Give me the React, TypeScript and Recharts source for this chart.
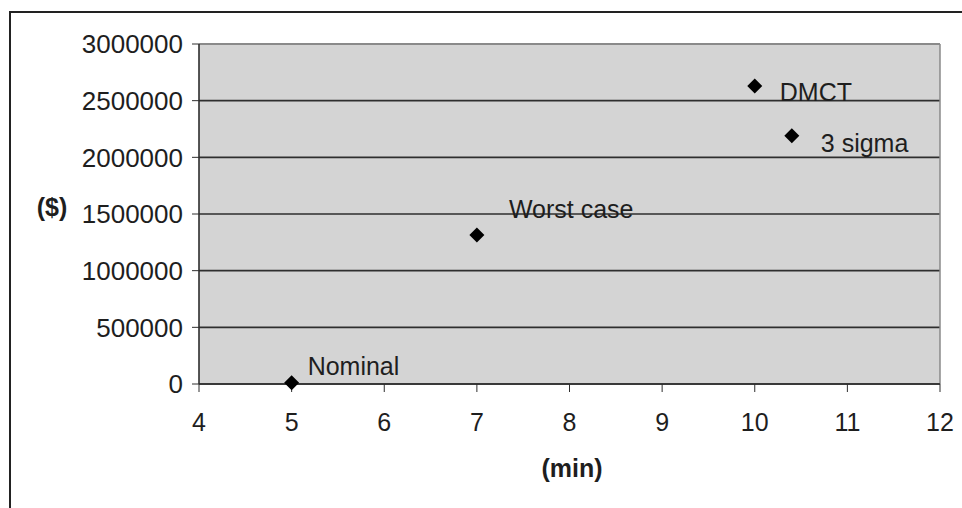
import React from 'react';
import {
  ScatterChart,
  Scatter,
  XAxis,
  YAxis,
  CartesianGrid,
  ReferenceLine,
} from 'recharts';

const caseNames = ['Nominal', 'Worst case', 'DMCT', '3 sigma'];
const minutes = [5, 7, 10, 10.4];
const costs = [10000, 1315000, 2630000, 2190000];
const xTicks = [4, 5, 6, 7, 8, 9, 10, 11, 12];
const yTicks = [0, 500000, 1000000, 1500000, 2000000, 2500000, 3000000];

const data = caseNames.map((name, i) => ({ name, x: minutes[i], y: costs[i] }));

// where each label sits relative to its marker (dx to text start, dy to text middle)
const labelOffset: Record<string, [number, number]> = {
  Nominal: [16, -17],
  'Worst case': [32, -26],
  DMCT: [25, 6],
  '3 sigma': [29, 7],
};

const FONT = '"Liberation Sans", Arial, sans-serif';
const INK = '#1e1e1e';

function Marker(props: any) {
  const { cx, cy, payload } = props;
  const r = 7.5;
  const [dx, dy] = labelOffset[payload.name] || [20, 0];
  return (
    <g>
      <polygon
        points={`${cx},${cy - r} ${cx + r},${cy} ${cx},${cy + r} ${cx - r},${cy}`}
        fill="#000"
      />
      <text
        x={cx + dx}
        y={cy + dy}
        dy="0.36em"
        fontSize={25}
        fontFamily={FONT}
        fill={INK}
      >
        {payload.name}
      </text>
    </g>
  );
}

export default function App() {
  const xTick = { fontSize: 25, fontFamily: FONT, fill: INK };
  const yTick = { fontSize: 26, fontFamily: FONT, fill: INK };
  return (
    <div style={{ position: 'absolute', left: 0, top: 0, width: 962, height: 508, background: '#fff' }}>
      <div
        style={{
          position: 'absolute',
          left: 9,
          top: 11,
          width: 960,
          height: 520,
          borderTop: '2px solid #222',
          borderLeft: '2px solid #222',
        }}
      />
      <ScatterChart width={962} height={508} margin={{ top: 44, right: 22, bottom: 0, left: 0 }}>
        <CartesianGrid
          vertical={false}
          fill="#d4d4d4"
          stroke="#2e2e2e"
          strokeWidth={1.6}
        />
        <XAxis
          type="number"
          dataKey="x"
          domain={[4, 12]}
          ticks={xTicks}
          height={124}
          tick={xTick}
          tickSize={8}
          tickMargin={21}
          axisLine={{ stroke: '#2e2e2e', strokeWidth: 1.6 }}
          tickLine={{ stroke: '#2e2e2e' }}
        />
        <YAxis
          type="number"
          dataKey="y"
          domain={[0, 3000000]}
          ticks={yTicks}
          width={199}
          tick={yTick}
          tickSize={7}
          tickMargin={9}
          axisLine={{ stroke: '#2e2e2e', strokeWidth: 1.6 }}
          tickLine={{ stroke: '#2e2e2e' }}
        />
        <ReferenceLine y={3000000} stroke="#8a8a8a" strokeWidth={2} />
        <ReferenceLine x={12} stroke="#8a8a8a" strokeWidth={1.5} />
        <Scatter data={data} shape={<Marker />} isAnimationActive={false} />
      </ScatterChart>
      <div
        style={{
          position: 'absolute',
          left: 0,
          width: 104,
          top: 193,
          textAlign: 'center',
          fontFamily: FONT,
          fontWeight: 'bold',
          fontSize: 25,
          color: INK,
          lineHeight: '28px',
        }}
      >
        ($)
      </div>
      <div
        style={{
          position: 'absolute',
          left: 472,
          width: 200,
          top: 454,
          textAlign: 'center',
          fontFamily: FONT,
          fontWeight: 'bold',
          fontSize: 25,
          color: INK,
          lineHeight: '28px',
        }}
      >
        (min)
      </div>
    </div>
  );
}
